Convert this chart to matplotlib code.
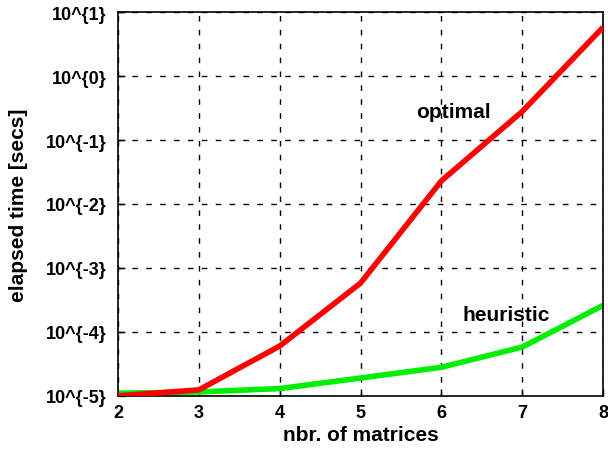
import numpy as np
import matplotlib.pyplot as plt
from matplotlib.ticker import FixedLocator, FixedFormatter, NullLocator

n_matrices = [2, 3, 4, 5, 6, 7, 8]
optimal = [1.0e-5, 1.24e-5, 6.0e-5, 5.8e-4, 0.023, 0.28, 5.8]
heuristic = [1.1e-5, 1.15e-5, 1.3e-5, 1.9e-5, 2.8e-5, 5.8e-5, 2.6e-4]

y_ticks = [1e-5, 1e-4, 1e-3, 1e-2, 1e-1, 1e0, 1e1]
y_labels = ["10^{-5}", "10^{-4}", "10^{-3}", "10^{-2}", "10^{-1}", "10^{0}", "10^{1}"]

plt.rcParams["font.family"] = ["Liberation Sans", "DejaVu Sans"]
plt.rcParams["font.weight"] = "bold"

fig = plt.figure(figsize=(6.08, 4.52), dpi=100)
ax = fig.add_axes([0.194, 0.122, 0.798, 0.849])

ax.plot(n_matrices, optimal, color="#ff0000", lw=4, solid_capstyle="butt", zorder=3)
ax.plot(n_matrices, heuristic, color="#00ee00", lw=4, solid_capstyle="butt", zorder=2)

ax.set_yscale("log")
ax.set_xlim(2, 8)
ax.set_ylim(1e-5, 1e1)
ax.yaxis.set_major_locator(FixedLocator(y_ticks))
ax.yaxis.set_major_formatter(FixedFormatter(y_labels))
ax.yaxis.set_minor_locator(NullLocator())
ax.set_xticks(n_matrices)

ax.grid(True, color="black", linestyle=(0, (4, 6)), lw=1)
ax.tick_params(direction="in", length=5, labelsize=13, width=1)
ax.tick_params(axis="y", pad=8)
ax.tick_params(axis="x", pad=6)
for lbl in ax.get_xticklabels() + ax.get_yticklabels():
    lbl.set_fontweight("bold")
for s in ax.spines.values():
    s.set_linewidth(1.2)

ax.set_xlabel("nbr. of matrices", fontsize=15, fontweight="bold")
ax.set_ylabel("elapsed time [secs]", fontsize=15, fontweight="bold")
ax.xaxis.set_label_coords(0.5, -0.077)
ax.yaxis.set_label_coords(-0.186, 0.5)

ax.text(6.145, 0.28, "optimal", fontsize=15, fontweight="bold", ha="center", va="center")
ax.text(6.8, 1.86e-4, "heuristic", fontsize=15, fontweight="bold", ha="center", va="center")

fig.savefig("out.png", dpi=100)
